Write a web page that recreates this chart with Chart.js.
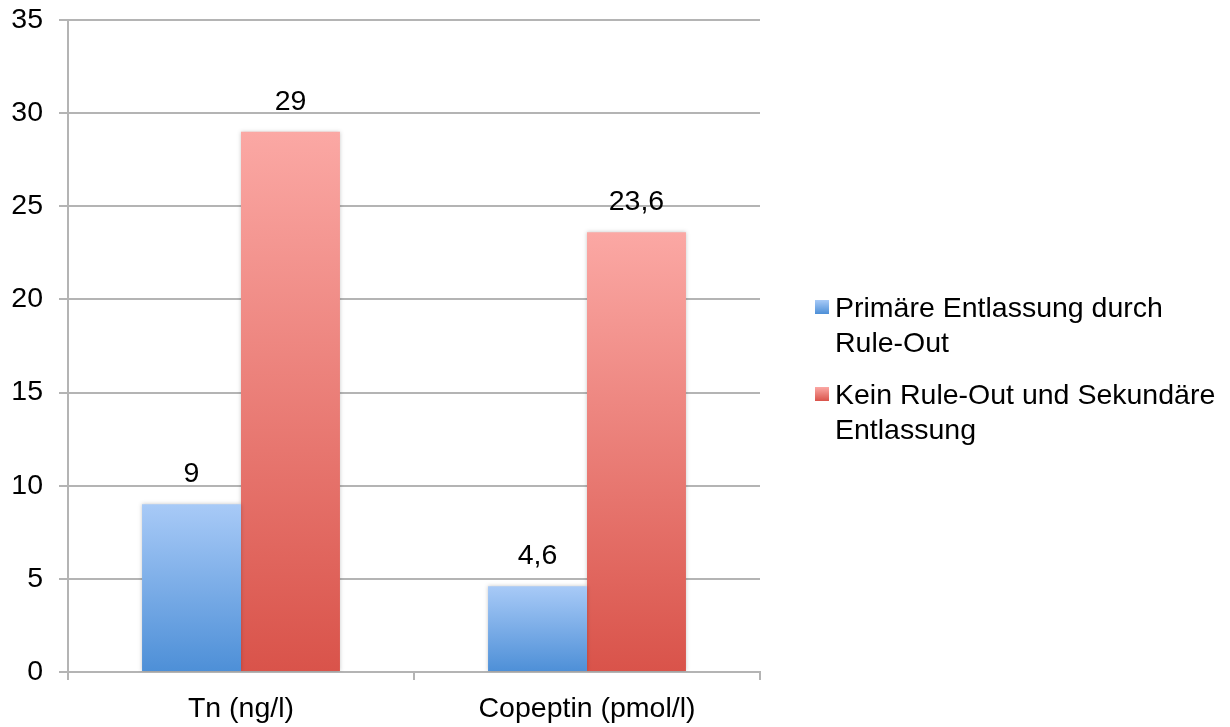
<!DOCTYPE html>
<html>
<head>
<meta charset="utf-8">
<script src="https://cdn.jsdelivr.net/npm/chart.js@4"></script>
<style>
  html, body { margin: 0; padding: 0; background: #fff; }
  #wrap { position: relative; width: 1230px; height: 727px; }
  #legend {
    position: absolute; left: 815px; top: 290px;
    font: 28.5px "Liberation Sans", Arial, sans-serif; color: #000;
  }
  .item { position: relative; padding-left: 20px; line-height: 35px; margin-bottom: 17px; white-space: nowrap; }
  .sw { position: absolute; left: 0; top: 10px; width: 14px; height: 14px; }
</style>
</head>
<body>
<div id="wrap">
  <canvas id="c" width="1230" height="727"></canvas>
  <div id="legend"></div>
</div>
<script>
// Categories and series values
const categories = ['Tn (ng/l)', 'Copeptin (pmol/l)'];
const seriesNames = ['Primäre Entlassung durch Rule-Out', 'Kein Rule-Out und Sekundäre Entlassung'];
const legendLines = [['Primäre Entlassung durch', 'Rule-Out'], ['Kein Rule-Out und Sekundäre', 'Entlassung']];
const primaryValues = [9, 4.6];
const secondaryValues = [29, 23.6];
const yTickMax = 35;
const yTickStep = 5;

// Gradient colour stops per series: top, bottom
const seriesGradients = [
  ['#a8caf7', '#4d8fd7'],
  ['#fba8a4', '#d9534a']
];

const FONT = '"Liberation Sans", Arial, Helvetica, sans-serif';
Chart.defaults.font.family = FONT;
Chart.defaults.font.size = 28.5;
Chart.defaults.color = '#000';

function barFill(seriesIndex) {
  const stops = seriesGradients[seriesIndex];
  return (ctx) => {
    const chart = ctx.chart;
    if (!chart.chartArea || ctx.type !== 'data') return stops[1];
    const y = chart.scales.y;
    const top = y.getPixelForValue(ctx.raw);
    const base = y.getPixelForValue(0);
    const g = chart.ctx.createLinearGradient(0, top, 0, base);
    g.addColorStop(0, stops[0]);
    g.addColorStop(1, stops[1]);
    return g;
  };
}

// Soft shadow behind the bars
const barShadow = {
  id: 'barShadow',
  beforeDatasetsDraw(chart) {
    const c = chart.ctx;
    c.save();
    c.shadowColor = 'rgba(0,0,0,0.22)';
    c.shadowBlur = 4;
    c.shadowOffsetX = 0;
    c.shadowOffsetY = 0;
  },
  afterDatasetsDraw(chart) {
    chart.ctx.restore();
  }
};

// Value labels above each bar, decimal comma
const valueLabels = {
  id: 'valueLabels',
  afterDatasetsDraw(chart) {
    const c = chart.ctx;
    c.save();
    c.font = '28.5px ' + FONT;
    c.fillStyle = '#000';
    c.textAlign = 'center';
    c.textBaseline = 'middle';
    chart.data.datasets.forEach((ds, di) => {
      const meta = chart.getDatasetMeta(di);
      meta.data.forEach((el, i) => {
        const text = String(ds.data[i]).replace('.', ',');
        c.fillText(text, el.x, el.y - 30);
      });
    });
    c.restore();
  }
};

const gridColor = '#b4b4b4';

new Chart(document.getElementById('c'), {
  type: 'bar',
  data: {
    labels: categories,
    datasets: [
      { label: seriesNames[0], data: primaryValues, backgroundColor: barFill(0),
        categoryPercentage: 0.572, barPercentage: 1, borderWidth: 0 },
      { label: seriesNames[1], data: secondaryValues, backgroundColor: barFill(1),
        categoryPercentage: 0.572, barPercentage: 1, borderWidth: 0 }
    ]
  },
  options: {
    responsive: false,
    animation: false,
    events: [],
    layout: { padding: { top: 20, right: 470, left: 0, bottom: 0 } },
    plugins: { legend: { display: false }, tooltip: { enabled: false } },
    scales: {
      x: {
        grid: { offset: true, drawOnChartArea: false, drawTicks: true, tickLength: 8, color: gridColor, lineWidth: 2 },
        border: { color: gridColor, width: 2 },
        ticks: { padding: 12, color: '#000' },
        afterFit(s) { s.height = 55; s.paddingLeft = 0; s.paddingRight = 0; }
      },
      y: {
        min: 0, max: yTickMax,
        ticks: { stepSize: yTickStep, padding: 16, color: '#000' },
        grid: { color: gridColor, lineWidth: 2, tickLength: 9 },
        border: { color: gridColor, width: 2 },
        afterFit(s) { s.width = 68; s.paddingTop = 0; s.paddingBottom = 0; }
      }
    }
  },
  plugins: [barShadow, valueLabels]
});

// Legend, one entry per series
const legend = document.getElementById('legend');
legendLines.forEach((lines, i) => {
  const item = document.createElement('div');
  item.className = 'item';
  const sw = document.createElement('span');
  sw.className = 'sw';
  sw.style.background = 'linear-gradient(' + seriesGradients[i][0] + ',' + seriesGradients[i][1] + ')';
  item.appendChild(sw);
  lines.forEach((line, k) => {
    if (k) item.appendChild(document.createElement('br'));
    item.appendChild(document.createTextNode(line));
  });
  legend.appendChild(item);
});
</script>
</body>
</html>
